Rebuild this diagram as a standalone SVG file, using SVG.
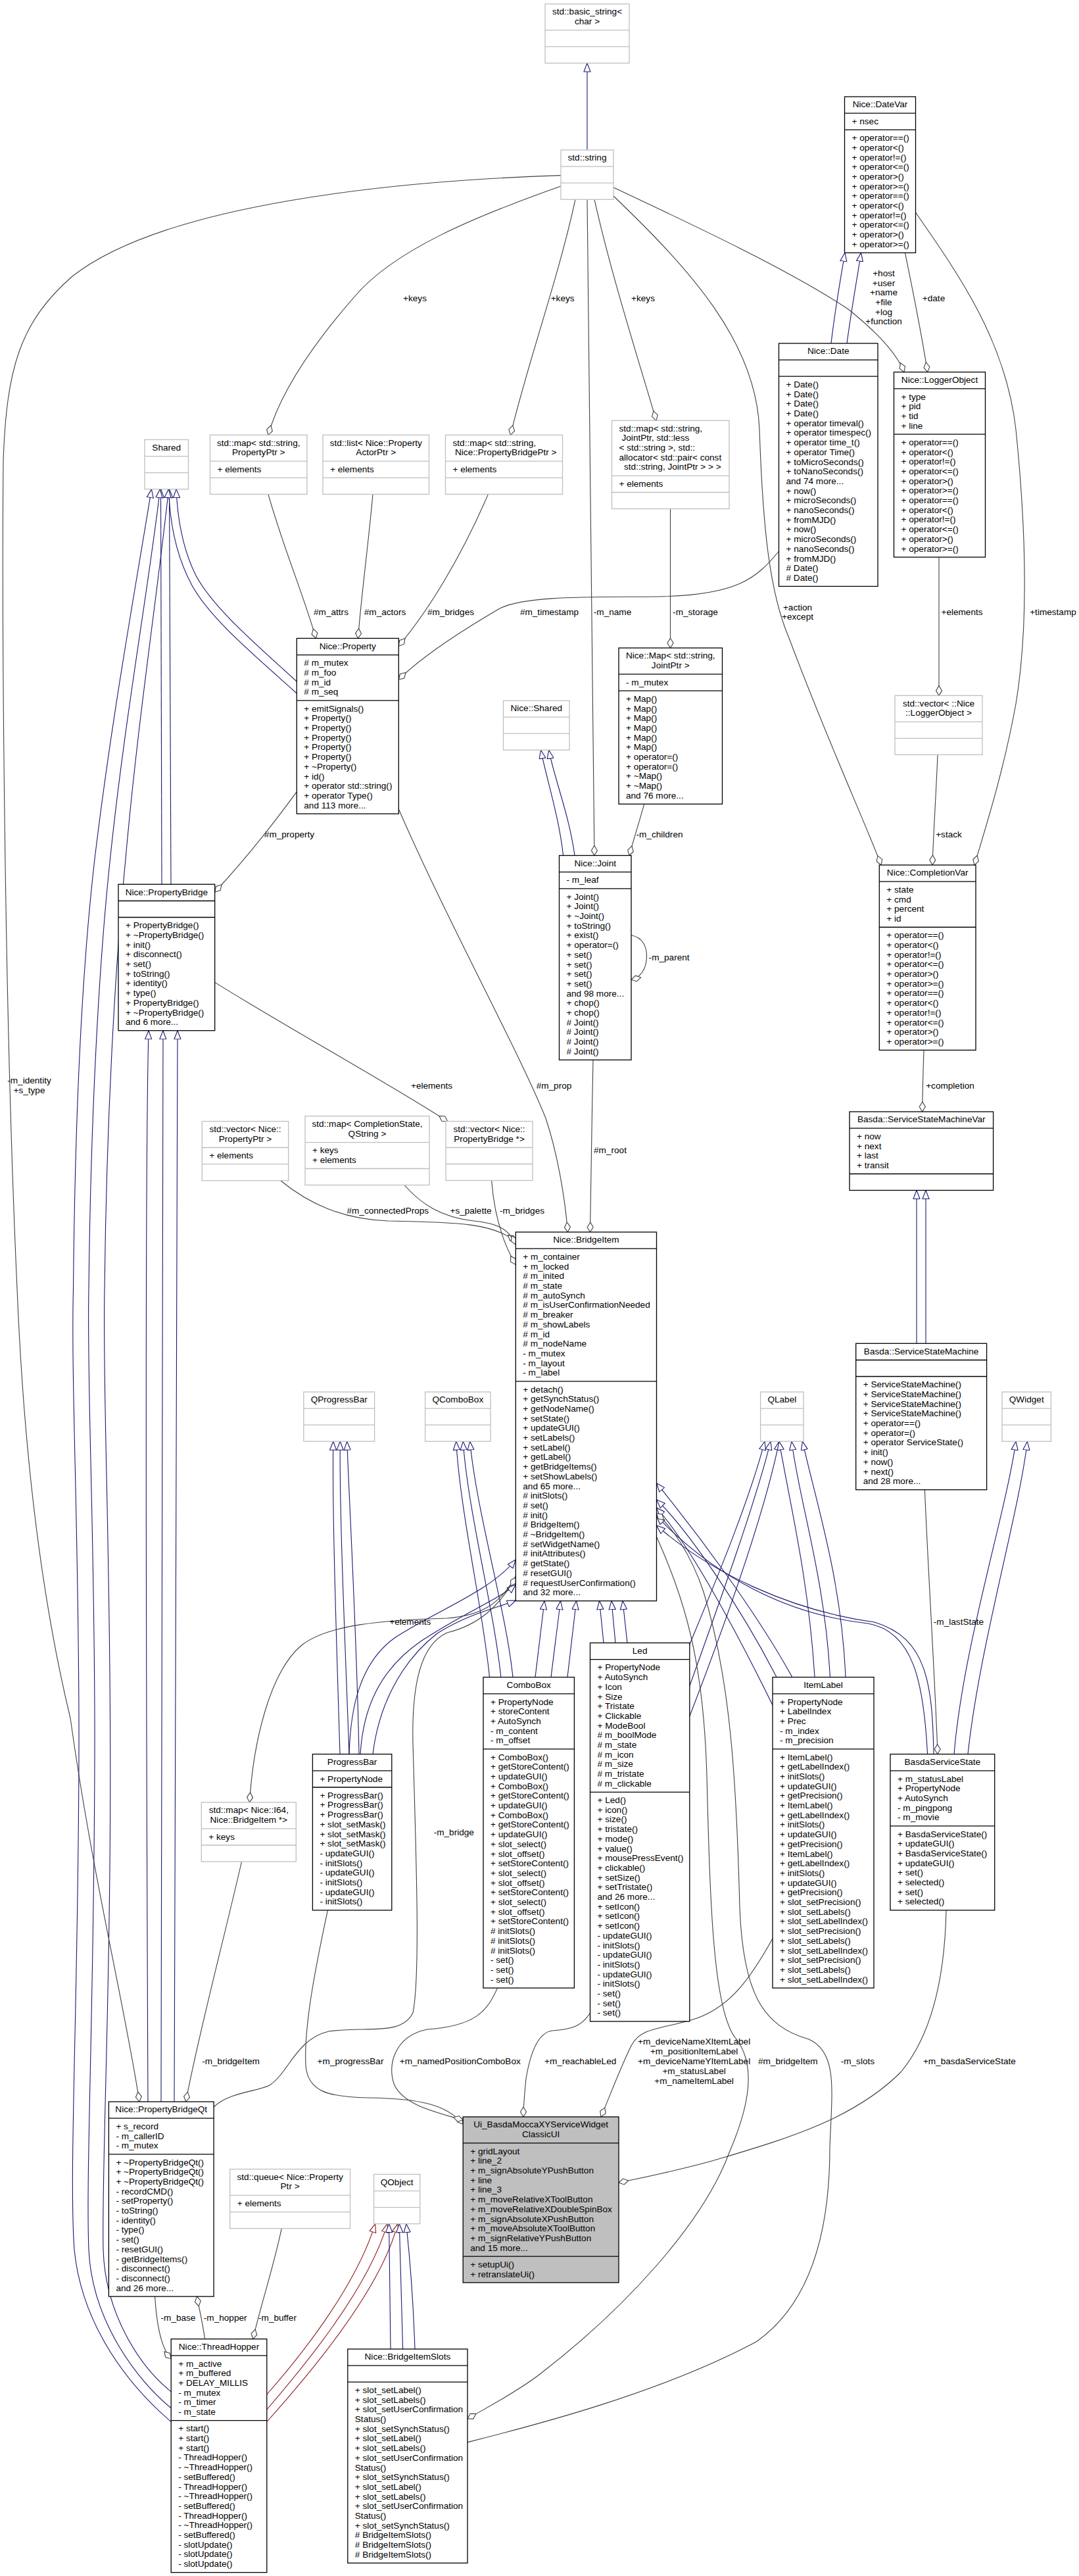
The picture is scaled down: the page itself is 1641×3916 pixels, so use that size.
<svg xmlns="http://www.w3.org/2000/svg" width="1641" height="3916" viewBox="0 0 1641 3916">
<defs>
<style>
.t{font-family:"Liberation Sans",Arial,sans-serif;font-size:13.6px;fill:#000}
.c{text-anchor:middle}
.cb{fill:#fff;stroke:#000;stroke-width:1.3}
.cg{fill:#fff;stroke:#bfbfbf;stroke-width:1.3}
.cu{fill:#bfbfbf;stroke:#000;stroke-width:1.3}
.db{fill:none;stroke:#000;stroke-width:1.3}
.dg{fill:none;stroke:#bfbfbf;stroke-width:1.3}
.eu{fill:none;stroke:#404040;stroke-width:1.1;marker-end:url(#dia)}
.ei{fill:none;stroke:#191970;stroke-width:1.1;marker-end:url(#tri)}
.ep{fill:none;stroke:#8b1a1a;stroke-width:1.1;marker-end:url(#trir)}
</style>
<marker id="tri" viewBox="0 0 14 12" markerWidth="14" markerHeight="12" refX="13.5" refY="6" orient="auto" markerUnits="userSpaceOnUse"><path d="M13.5,6 L0.5,1 L0.5,11 Z" fill="#fff" stroke="#191970" stroke-width="1.1"/></marker>
<marker id="trir" viewBox="0 0 14 12" markerWidth="14" markerHeight="12" refX="13.5" refY="6" orient="auto" markerUnits="userSpaceOnUse"><path d="M13.5,6 L0.5,1 L0.5,11 Z" fill="#fff" stroke="#8b1a1a" stroke-width="1.1"/></marker>
<marker id="dia" viewBox="0 0 16 12" markerWidth="16" markerHeight="12" refX="15.5" refY="6" orient="auto" markerUnits="userSpaceOnUse"><path d="M15.5,6 L8,1.5 L0.5,6 L8,10.5 Z" fill="#fff" stroke="#404040" stroke-width="1.1"/></marker>
</defs>
<rect x="0" y="0" width="1641" height="3916" fill="#fff"/>

<g id="connectors">
<path class="ei" d="M893,228 L893,96"/>
<path class="ei" d="M1264,522 C1270,470 1279,420 1285,384.3"/>
<path class="ei" d="M1288,522 C1295,470 1304,420 1309.5,384.3"/>
<path class="ei" d="M451.3,1036 C390,980 325,925 298,875 C278,835 270,790 268,743.6"/>
<path class="ei" d="M451.3,1054 C380,990 320,940 292,890 C266,842 258,790 256.5,743.6"/>
<path class="ei" d="M246,1344.3 L244.5,743.6"/>
<path class="ei" d="M260,1344.3 C260,1000 259,850 257.5,743.6"/>
<path class="ei" d="M260.2,3681.5 C200,3630 125,3540 113,3420 C104,3300 121,3000 120,2612 C119,2300 108,2100 111.5,1959 C114,1700 125,1470 144,1306 C170,1090 205,900 230.4,743.6"/>
<path class="ei" d="M260.2,3660.7 C210,3620 140,3530 135,3420 C130,3300 145,3000 144,2612 C143,2300 132,2100 135,1959 C138,1700 150,1470 167.5,1306 C190,1090 225,900 243.5,743.6"/>
<path class="ei" d="M260.2,3635.7 C215,3600 160,3520 157,3420 C154,3300 170,3000 167.5,2612 C166,2300 156,2100 159,1959 C162,1700 175,1470 191,1306 C210,1090 240,900 256.5,743.6"/>
<path class="ei" d="M856.6,1300.5 C850,1240 830,1180 822.6,1140.2"/>
<path class="ei" d="M874,1300.5 C866,1240 842,1180 834.7,1140.2"/>
<path class="ei" d="M225,3195 C222,2500 220,1800 226,1566.7"/>
<path class="ei" d="M245,3195 C245,2500 245,1800 248,1566.7"/>
<path class="ei" d="M265,3195 C268,2500 269,1800 270,1566.7"/>
<path class="ei" d="M517,2666.6 C512,2500 505,2300 506.8,2191.2"/>
<path class="ei" d="M531,2666.6 C525,2500 516,2300 517.3,2191.2"/>
<path class="ei" d="M546,2666.6 C543,2500 532,2300 527.7,2191.2"/>
<path class="ei" d="M744.5,2549.6 C735,2450 700,2300 693.7,2191.2"/>
<path class="ei" d="M761.8,2549.6 C752,2450 712,2300 704.2,2191.2"/>
<path class="ei" d="M780,2549.6 C770,2450 725,2300 714.7,2191.2"/>
<path class="ei" d="M531,2666.6 C533,2600 545,2530 600,2490 C660,2450 745,2420 784.3,2371"/>
<path class="ei" d="M548,2666.6 C552,2600 575,2540 640,2495 C700,2455 760,2430 784.3,2409"/>
<path class="ei" d="M567,2666.6 C575,2600 605,2530 665,2483 C715,2452 760,2443 784.3,2433"/>
<path class="ei" d="M814,2549.6 L828,2433.7"/>
<path class="ei" d="M838,2549.6 L852.5,2433.7"/>
<path class="ei" d="M863,2549.6 L876.5,2433.7"/>
<path class="ei" d="M918,2497.5 L911.6,2433.7"/>
<path class="ei" d="M936,2497.5 L930,2433.7"/>
<path class="ei" d="M954,2497.5 L947,2433.7"/>
<path class="ei" d="M1048.8,2500 C1090,2400 1140,2280 1163,2191.2"/>
<path class="ei" d="M1048.8,2563 C1100,2420 1150,2280 1172,2191.2"/>
<path class="ei" d="M1048.8,2609 C1110,2450 1165,2290 1185,2191.2"/>
<path class="ei" d="M1239,2549.6 C1230,2400 1200,2280 1185,2191.2"/>
<path class="ei" d="M1262.4,2549.6 C1255,2400 1215,2280 1204,2191.2"/>
<path class="ei" d="M1286,2549.6 C1280,2400 1240,2280 1220.5,2191.2"/>
<path class="ei" d="M1204.8,2549.6 C1150,2450 1060,2330 998.5,2254.7"/>
<path class="ei" d="M1181,2549.6 C1130,2450 1050,2330 998.5,2279.7"/>
<path class="ei" d="M1175,2592 C1120,2480 1050,2350 998.5,2292"/>
<path class="ei" d="M1410.6,2666.6 C1405,2560 1390,2480 1320,2468 C1200,2455 1090,2400 998.5,2304.7"/>
<path class="ei" d="M1420,2666.6 C1418,2560 1410,2490 1330,2466 C1200,2448 1080,2390 998.5,2319"/>
<path class="ei" d="M1451,2666.6 C1465,2500 1530,2300 1545,2191.2"/>
<path class="ei" d="M1472,2666.6 C1490,2500 1550,2300 1562.4,2191.2"/>
<path class="ei" d="M1394,2042.3 L1394,1809.5"/>
<path class="ei" d="M1408,2042.3 L1408,1809.5"/>
<path class="ep" d="M405.8,3640 C450,3590 540,3480 570.7,3380.6"/>
<path class="ep" d="M405.8,3663 C460,3600 560,3480 589,3380.6"/>
<path class="ep" d="M405.8,3681.5 C470,3610 580,3480 604.7,3380.6"/>
<path class="ei" d="M594,3571 C593,3480 592,3420 591.6,3380.6"/>
<path class="ei" d="M612.6,3571 L607.3,3380.6"/>
<path class="ei" d="M631,3571 C628,3480 622,3420 617.8,3380.6"/>

<path class="eu" d="M853,266.6 C600,275 250,310 110,420 C30,490 10,560 5,700 C3,900 5,1500 26,1959 C40,2300 80,2500 107,2612 C140,2850 190,3050 212,3195"/>
<path class="eu" d="M853,283 C720,330 600,380 540,450 C470,530 425,600 408,661.3"/>
<path class="eu" d="M875,303.2 C850,420 800,560 776.5,661.3"/>
<path class="eu" d="M893,303.2 C895,700 900,1000 904,1300.5"/>
<path class="eu" d="M904,303.2 C930,420 975,560 998,639.3"/>
<path class="eu" d="M933,298 C1050,410 1150,520 1155,653 C1160,800 1170,900 1200,970 C1260,1130 1320,1260 1340,1315"/>
<path class="eu" d="M933,285 C1050,340 1200,410 1290,470 C1340,510 1365,540 1375,565.6"/>
<path class="eu" d="M1376.5,384.3 C1390,450 1402,510 1410.6,565.6"/>
<path class="eu" d="M1392.5,323 C1460,420 1530,520 1545,653 C1560,800 1565,950 1545,1070 C1525,1180 1495,1270 1482,1315"/>
<path class="eu" d="M1184.5,838 C1150,880 1120,905 1000,907 C900,908 800,905 760,925 C700,960 640,1000 606.3,1033"/>
<path class="eu" d="M408,751.4 C430,830 460,900 480.6,970.4"/>
<path class="eu" d="M567,751.4 C560,830 550,900 544.5,970.4"/>
<path class="eu" d="M742.4,751.4 C700,850 650,930 606.3,982"/>
<path class="eu" d="M1019.5,773.5 L1019.5,985"/>
<path class="eu" d="M979.7,1222.3 C972,1250 964,1275 957,1300.5"/>
<path class="eu" d="M1428,847 L1428,1057.4"/>
<path class="eu" d="M1426,1147.3 C1424,1200 1420,1260 1418,1315"/>
<path class="eu" d="M960,1421.8 C978,1425 984,1440 983.5,1455 C983,1472 975,1486 960,1489"/>
<path class="eu" d="M451.3,1203.6 C410,1260 370,1310 326.7,1356"/>
<path class="eu" d="M606.3,1230 C680,1400 790,1600 830,1700 C850,1760 860,1830 863.5,1873"/>
<path class="eu" d="M902,1611.3 C900,1700 899,1800 897.5,1873"/>
<path class="eu" d="M1405,1596.4 C1404,1630 1403,1660 1402.7,1690"/>
<path class="eu" d="M326.7,1493.4 C450,1570 580,1640 680.6,1704.6"/>
<path class="eu" d="M426.7,1794.7 C470,1830 520,1853 590,1856 C700,1858 750,1860 784.3,1887"/>
<path class="eu" d="M615,1801.5 C640,1830 670,1850 720,1856 C760,1860 775,1870 784.3,1892"/>
<path class="eu" d="M747.6,1794.5 C752,1850 765,1890 784.3,1922.4"/>
<path class="eu" d="M784.3,2396 C760,2440 730,2456 680,2460 C580,2463 500,2470 460,2500 C410,2540 385,2650 379.6,2739.9"/>
<path class="eu" d="M325.1,3203 C350,3180 390,3180 410,3170 C440,3150 450,3100 500,3088 C560,3080 610,3095 628,3060 C640,3000 632,2800 628,2650 C626,2560 640,2500 680,2482 C730,2470 760,2440 784.3,2398"/>
<path class="eu" d="M367.5,2830 C340,2950 300,3100 282.7,3195"/>
<path class="eu" d="M498.4,2903.9 C480,2990 462,3080 465,3140 C468,3180 500,3188 560,3189 C640,3190 680,3200 704.2,3229"/>
<path class="eu" d="M756.5,3022.1 C740,3060 720,3080 650,3085 C600,3095 588,3140 600,3170 C615,3200 660,3210 704.2,3223"/>
<path class="eu" d="M897.5,3060 C885,3080 870,3085 840,3087 C815,3090 805,3130 800,3160 C797,3190 796,3205 796,3218"/>
<path class="eu" d="M1175,2947 C1140,3010 1110,3050 1060,3068 C1010,3085 975,3080 960,3110 C945,3140 930,3180 914,3218"/>
<path class="eu" d="M998.5,2336 C1040,2430 1070,2520 1075,2700 C1080,2900 1085,3060 1120,3100 C1150,3140 1140,3200 1110,3270 C1070,3380 950,3510 820,3610 C780,3640 740,3660 711,3677"/>
<path class="eu" d="M711,3712.7 C800,3690 1000,3640 1150,3560 C1250,3490 1262,3350 1262,3265 C1265,3180 1275,3120 1230,3100 C1160,3080 1130,3030 1125,2900 C1120,2700 1110,2550 1070,2420 C1050,2360 1020,2320 998.5,2300.5"/>
<path class="eu" d="M1406.4,2264.7 C1412,2400 1422,2550 1426,2666.6"/>
<path class="eu" d="M1439,2903.9 C1437,3000 1420,3090 1370,3150 C1300,3220 1200,3250 1100,3280 C1040,3298 980,3310 941,3318"/>
<path class="eu" d="M235.6,3491.1 C238,3530 245,3570 260.2,3585.7"/>
<path class="eu" d="M311.5,3555.7 C308,3530 303,3510 299.5,3491.1"/>
<path class="eu" d="M428.3,3387.6 C415,3450 395,3510 384.8,3555.7"/>

<g id="edge-labels">
<text class="t c" x="631" y="457.5">+keys</text>
<text class="t c" x="855.6" y="457.5">+keys</text>
<text class="t c" x="978" y="457.5">+keys</text>
<text class="t c" x="1344" y="420.2">+host<tspan x="1344" dy="14.9">+user</tspan><tspan x="1344" dy="14.3">+name</tspan><tspan x="1344" dy="15">+file</tspan><tspan x="1344" dy="14.8">+log</tspan><tspan x="1344" dy="14">+function</tspan></text>
<text class="t c" x="1420" y="457.5">+date</text>
<text class="t c" x="503.5" y="934.5">#m_attrs</text>
<text class="t c" x="585.5" y="934.5">#m_actors</text>
<text class="t c" x="685.5" y="934.5">#m_bridges</text>
<text class="t c" x="835.5" y="934.5">#m_timestamp</text>
<text class="t c" x="931.5" y="934.5">-m_name</text>
<text class="t c" x="1057.5" y="934.5">-m_storage</text>
<text class="t c" x="1213" y="927.5">+action<tspan x="1213" dy="14">+except</tspan></text>
<text class="t c" x="1463" y="934.5">+elements</text>
<text class="t c" x="1601.5" y="934.5">+timestamp</text>
<text class="t c" x="1003" y="1272.5">-m_children</text>
<text class="t c" x="1443" y="1272.5">+stack</text>
<text class="t c" x="440" y="1272.5">#m_property</text>
<text class="t c" x="1017.6" y="1459.5">-m_parent</text>
<text class="t c" x="44.5" y="1647">-m_identity<tspan x="44.5" dy="14.6">+s_type</tspan></text>
<text class="t c" x="656.5" y="1654.5">+elements</text>
<text class="t c" x="842.5" y="1654.5">#m_prop</text>
<text class="t c" x="1445" y="1654.5">+completion</text>
<text class="t c" x="928" y="1753">#m_root</text>
<text class="t c" x="589.8" y="1845">#m_connectedProps</text>
<text class="t c" x="716" y="1845">+s_palette</text>
<text class="t c" x="794" y="1845">-m_bridges</text>
<text class="t c" x="623.8" y="2469.5">+elements</text>
<text class="t c" x="1458" y="2469.5">-m_lastState</text>
<text class="t c" x="690.3" y="2789.5">-m_bridge</text>
<text class="t c" x="351" y="3137.5">-m_bridgeItem</text>
<text class="t c" x="533" y="3137.5">+m_progressBar</text>
<text class="t c" x="699.8" y="3137.5">+m_namedPositionComboBox</text>
<text class="t c" x="882.7" y="3137.5">+m_reachableLed</text>
<text class="t c" x="1198.3" y="3137.5">#m_bridgeItem</text>
<text class="t c" x="1304.4" y="3137.5">-m_slots</text>
<text class="t c" x="1474.4" y="3137.5">+m_basdaServiceState</text>
<text class="t c" x="1055.6" y="3108.2">+m_deviceNameXItemLabel<tspan x="1055.6" dy="15">+m_positionItemLabel</tspan><tspan x="1055.6" dy="14.4">+m_deviceNameYItemLabel</tspan><tspan x="1055.6" dy="14.9">+m_statusLabel</tspan><tspan x="1055.6" dy="15">+m_nameItemLabel</tspan></text>
<text class="t c" x="271" y="3528">-m_base</text>
<text class="t c" x="342.7" y="3528">-m_hopper</text>
<text class="t c" x="422" y="3528">-m_buffer</text>
</g>
</g>

<g id="node-basic-string">
<rect class="cg" x="829" y="6" width="128" height="90"/>
<path class="dg" d="M829,45.9 H957 M829,70.9 H957"/>
<text class="t c" x="893" y="22.2">std::basic_string&lt;<tspan x="893" dy="14.7">char &gt;</tspan></text>
</g>
<g id="node-std-string">
<rect class="cg" x="853" y="228" width="80" height="75.2"/>
<path class="dg" d="M853,253.2 H933 M853,278.2 H933"/>
<text class="t c" x="893" y="244.2">std::string</text>
</g>
<g id="node-datevar">
<rect class="cb" x="1284.5" y="147" width="108" height="237.3"/>
<path class="db" d="M1284.5,172.2 H1392.5 M1284.5,197.4 H1392.5"/>
<text class="t c" x="1338.5" y="163.2">Nice::DateVar</text>
<text class="t" x="1295.5" y="188.9">+ nsec</text>
<text class="t" x="1295.5" y="214.1">+ operator==()<tspan x="1295.5" dy="14.7">+ operator&lt;()</tspan><tspan x="1295.5" dy="14.7">+ operator!=()</tspan><tspan x="1295.5" dy="14.7">+ operator&lt;=()</tspan><tspan x="1295.5" dy="14.7">+ operator&gt;()</tspan><tspan x="1295.5" dy="14.7">+ operator&gt;=()</tspan><tspan x="1295.5" dy="14.7">+ operator==()</tspan><tspan x="1295.5" dy="14.7">+ operator&lt;()</tspan><tspan x="1295.5" dy="14.7">+ operator!=()</tspan><tspan x="1295.5" dy="14.7">+ operator&lt;=()</tspan><tspan x="1295.5" dy="14.7">+ operator&gt;()</tspan><tspan x="1295.5" dy="14.7">+ operator&gt;=()</tspan></text>
</g>
<g id="node-date">
<rect class="cb" x="1184.5" y="522" width="150.5" height="369.4"/>
<path class="db" d="M1184.5,547.2 H1335 M1184.5,572.2 H1335"/>
<text class="t c" x="1259.75" y="538.2">Nice::Date</text>
<text class="t" x="1195.5" y="588.9">+ Date()<tspan x="1195.5" dy="14.7">+ Date()</tspan><tspan x="1195.5" dy="14.7">+ Date()</tspan><tspan x="1195.5" dy="14.7">+ Date()</tspan><tspan x="1195.5" dy="14.7">+ operator timeval()</tspan><tspan x="1195.5" dy="14.7">+ operator timespec()</tspan><tspan x="1195.5" dy="14.7">+ operator time_t()</tspan><tspan x="1195.5" dy="14.7">+ operator Time()</tspan><tspan x="1195.5" dy="14.7">+ toMicroSeconds()</tspan><tspan x="1195.5" dy="14.7">+ toNanoSeconds()</tspan><tspan x="1195.5" dy="14.7">and 74 more...</tspan><tspan x="1195.5" dy="14.7">+ now()</tspan><tspan x="1195.5" dy="14.7">+ microSeconds()</tspan><tspan x="1195.5" dy="14.7">+ nanoSeconds()</tspan><tspan x="1195.5" dy="14.7">+ fromMJD()</tspan><tspan x="1195.5" dy="14.7">+ now()</tspan><tspan x="1195.5" dy="14.7">+ microSeconds()</tspan><tspan x="1195.5" dy="14.7">+ nanoSeconds()</tspan><tspan x="1195.5" dy="14.7">+ fromMJD()</tspan><tspan x="1195.5" dy="14.7"># Date()</tspan><tspan x="1195.5" dy="14.7"># Date()</tspan></text>
</g>
<g id="node-loggerobject">
<rect class="cb" x="1359.5" y="565.6" width="139" height="281.4"/>
<path class="db" d="M1359.5,590.8 H1498.5 M1359.5,660.1 H1498.5"/>
<text class="t c" x="1429" y="581.8">Nice::LoggerObject</text>
<text class="t" x="1370.5" y="607.5">+ type<tspan x="1370.5" dy="14.7">+ pid</tspan><tspan x="1370.5" dy="14.7">+ tid</tspan><tspan x="1370.5" dy="14.7">+ line</tspan></text>
<text class="t" x="1370.5" y="676.8">+ operator==()<tspan x="1370.5" dy="14.7">+ operator&lt;()</tspan><tspan x="1370.5" dy="14.7">+ operator!=()</tspan><tspan x="1370.5" dy="14.7">+ operator&lt;=()</tspan><tspan x="1370.5" dy="14.7">+ operator&gt;()</tspan><tspan x="1370.5" dy="14.7">+ operator&gt;=()</tspan><tspan x="1370.5" dy="14.7">+ operator==()</tspan><tspan x="1370.5" dy="14.7">+ operator&lt;()</tspan><tspan x="1370.5" dy="14.7">+ operator!=()</tspan><tspan x="1370.5" dy="14.7">+ operator&lt;=()</tspan><tspan x="1370.5" dy="14.7">+ operator&gt;()</tspan><tspan x="1370.5" dy="14.7">+ operator&gt;=()</tspan></text>
</g>
<g id="node-map-jointptr-std">
<rect class="cg" x="930.5" y="639.3" width="178.5" height="134.2"/>
<path class="dg" d="M930.5,723.3 H1109 M930.5,748.5 H1109"/>
<text class="t" x="941.5" y="655.5">std::map&lt; std::string,<tspan x="945.5" dy="14.7">JointPtr, std::less</tspan><tspan x="941.5" dy="14.7">&lt; std::string &gt;, std::</tspan><tspan x="941.5" dy="14.7">allocator&lt; std::pair&lt; const</tspan><tspan x="949" dy="14.7">std::string, JointPtr &gt; &gt; &gt;</tspan></text>
<text class="t" x="941.5" y="740">+ elements</text>
</g>
<g id="node-shared">
<rect class="cg" x="220" y="668.4" width="66.5" height="75.2"/>
<path class="dg" d="M220,693.6 H286.5 M220,718.6 H286.5"/>
<text class="t c" x="253.25" y="684.6">Shared</text>
</g>
<g id="node-map-propertyptr">
<rect class="cg" x="319.5" y="661.3" width="147.5" height="90.1"/>
<path class="dg" d="M319.5,701.2 H467 M319.5,726.4 H467"/>
<text class="t c" x="393.25" y="677.5">std::map&lt; std::string,<tspan x="393.25" dy="14.7">PropertyPtr &gt;</tspan></text>
<text class="t" x="330.5" y="717.9">+ elements</text>
</g>
<g id="node-list-actorptr">
<rect class="cg" x="491" y="661.3" width="161.5" height="90.1"/>
<path class="dg" d="M491,701.2 H652.5 M491,726.4 H652.5"/>
<text class="t c" x="571.75" y="677.5">std::list&lt; Nice::Property<tspan x="571.75" dy="14.7">ActorPtr &gt;</tspan></text>
<text class="t" x="502" y="717.9">+ elements</text>
</g>
<g id="node-map-bridgeptr">
<rect class="cg" x="677.5" y="661.3" width="178" height="90.1"/>
<path class="dg" d="M677.5,701.2 H855.5 M677.5,726.4 H855.5"/>
<text class="t" x="688.5" y="677.5">std::map&lt; std::string,<tspan x="692" dy="14.7">Nice::PropertyBridgePtr &gt;</tspan></text>
<text class="t" x="688.5" y="717.9">+ elements</text>
</g>
<g id="node-property">
<rect class="cb" x="451.3" y="970.4" width="155" height="266.7"/>
<path class="db" d="M451.3,995.6 H606.3 M451.3,1064.9 H606.3"/>
<text class="t c" x="528.8" y="986.6">Nice::Property</text>
<text class="t" x="462.3" y="1012.3"># m_mutex<tspan x="462.3" dy="14.7"># m_foo</tspan><tspan x="462.3" dy="14.7"># m_id</tspan><tspan x="462.3" dy="14.7"># m_seq</tspan></text>
<text class="t" x="462.3" y="1081.6">+ emitSignals()<tspan x="462.3" dy="14.7">+ Property()</tspan><tspan x="462.3" dy="14.7">+ Property()</tspan><tspan x="462.3" dy="14.7">+ Property()</tspan><tspan x="462.3" dy="14.7">+ Property()</tspan><tspan x="462.3" dy="14.7">+ Property()</tspan><tspan x="462.3" dy="14.7">+ ~Property()</tspan><tspan x="462.3" dy="14.7">+ id()</tspan><tspan x="462.3" dy="14.7">+ operator std::string()</tspan><tspan x="462.3" dy="14.7">+ operator Type()</tspan><tspan x="462.3" dy="14.7">and 113 more...</tspan></text>
</g>
<g id="node-nice-map">
<rect class="cb" x="941" y="985" width="157.5" height="237.3"/>
<path class="db" d="M941,1024.9 H1098.5 M941,1050.1 H1098.5"/>
<text class="t c" x="1019.75" y="1001.2">Nice::Map&lt; std::string,<tspan x="1019.75" dy="14.7">JointPtr &gt;</tspan></text>
<text class="t" x="952" y="1041.6">- m_mutex</text>
<text class="t" x="952" y="1066.8">+ Map()<tspan x="952" dy="14.7">+ Map()</tspan><tspan x="952" dy="14.7">+ Map()</tspan><tspan x="952" dy="14.7">+ Map()</tspan><tspan x="952" dy="14.7">+ Map()</tspan><tspan x="952" dy="14.7">+ Map()</tspan><tspan x="952" dy="14.7">+ operator=()</tspan><tspan x="952" dy="14.7">+ operator=()</tspan><tspan x="952" dy="14.7">+ ~Map()</tspan><tspan x="952" dy="14.7">+ ~Map()</tspan><tspan x="952" dy="14.7">and 76 more...</tspan></text>
</g>
<g id="node-nice-shared">
<rect class="cg" x="765.5" y="1065" width="100.5" height="75.2"/>
<path class="dg" d="M765.5,1090.2 H866 M765.5,1115.2 H866"/>
<text class="t c" x="815.75" y="1081.2">Nice::Shared</text>
</g>
<g id="node-vector-loggerobject">
<rect class="cg" x="1361" y="1057.4" width="133" height="89.9"/>
<path class="dg" d="M1361,1097.3 H1494 M1361,1122.3 H1494"/>
<text class="t c" x="1427.5" y="1073.6">std::vector&lt; ::Nice<tspan x="1427.5" dy="14.7">::LoggerObject &gt;</tspan></text>
</g>
<g id="node-joint">
<rect class="cb" x="850.5" y="1300.5" width="109.5" height="310.8"/>
<path class="db" d="M850.5,1325.7 H960 M850.5,1350.9 H960"/>
<text class="t c" x="905.25" y="1316.7">Nice::Joint</text>
<text class="t" x="861.5" y="1342.4">- m_leaf</text>
<text class="t" x="861.5" y="1367.6">+ Joint()<tspan x="861.5" dy="14.7">+ Joint()</tspan><tspan x="861.5" dy="14.7">+ ~Joint()</tspan><tspan x="861.5" dy="14.7">+ toString()</tspan><tspan x="861.5" dy="14.7">+ exist()</tspan><tspan x="861.5" dy="14.7">+ operator=()</tspan><tspan x="861.5" dy="14.7">+ set()</tspan><tspan x="861.5" dy="14.7">+ set()</tspan><tspan x="861.5" dy="14.7">+ set()</tspan><tspan x="861.5" dy="14.7">+ set()</tspan><tspan x="861.5" dy="14.7">and 98 more...</tspan><tspan x="861.5" dy="14.7">+ chop()</tspan><tspan x="861.5" dy="14.7">+ chop()</tspan><tspan x="861.5" dy="14.7"># Joint()</tspan><tspan x="861.5" dy="14.7"># Joint()</tspan><tspan x="861.5" dy="14.7"># Joint()</tspan><tspan x="861.5" dy="14.7"># Joint()</tspan></text>
</g>
<g id="node-completionvar">
<rect class="cb" x="1337.3" y="1315" width="146.7" height="281.4"/>
<path class="db" d="M1337.3,1340.2 H1484 M1337.3,1409.5 H1484"/>
<text class="t c" x="1410.65" y="1331.2">Nice::CompletionVar</text>
<text class="t" x="1348.3" y="1356.9">+ state<tspan x="1348.3" dy="14.7">+ cmd</tspan><tspan x="1348.3" dy="14.7">+ percent</tspan><tspan x="1348.3" dy="14.7">+ id</tspan></text>
<text class="t" x="1348.3" y="1426.2">+ operator==()<tspan x="1348.3" dy="14.7">+ operator&lt;()</tspan><tspan x="1348.3" dy="14.7">+ operator!=()</tspan><tspan x="1348.3" dy="14.7">+ operator&lt;=()</tspan><tspan x="1348.3" dy="14.7">+ operator&gt;()</tspan><tspan x="1348.3" dy="14.7">+ operator&gt;=()</tspan><tspan x="1348.3" dy="14.7">+ operator==()</tspan><tspan x="1348.3" dy="14.7">+ operator&lt;()</tspan><tspan x="1348.3" dy="14.7">+ operator!=()</tspan><tspan x="1348.3" dy="14.7">+ operator&lt;=()</tspan><tspan x="1348.3" dy="14.7">+ operator&gt;()</tspan><tspan x="1348.3" dy="14.7">+ operator&gt;=()</tspan></text>
</g>
<g id="node-propertybridge">
<rect class="cb" x="180" y="1344.3" width="146.7" height="222.4"/>
<path class="db" d="M180,1369.5 H326.7 M180,1394.5 H326.7"/>
<text class="t c" x="253.35" y="1360.5">Nice::PropertyBridge</text>
<text class="t" x="191" y="1411.2">+ PropertyBridge()<tspan x="191" dy="14.7">+ ~PropertyBridge()</tspan><tspan x="191" dy="14.7">+ init()</tspan><tspan x="191" dy="14.7">+ disconnect()</tspan><tspan x="191" dy="14.7">+ set()</tspan><tspan x="191" dy="14.7">+ toString()</tspan><tspan x="191" dy="14.7">+ identity()</tspan><tspan x="191" dy="14.7">+ type()</tspan><tspan x="191" dy="14.7">+ PropertyBridge()</tspan><tspan x="191" dy="14.7">+ ~PropertyBridge()</tspan><tspan x="191" dy="14.7">and 6 more...</tspan></text>
</g>
<g id="node-ssmvar">
<rect class="cb" x="1292" y="1690" width="218.6" height="119.5"/>
<path class="db" d="M1292,1715.2 H1510.6 M1292,1784.5 H1510.6"/>
<text class="t c" x="1401.3" y="1706.2">Basda::ServiceStateMachineVar</text>
<text class="t" x="1303" y="1731.9">+ now<tspan x="1303" dy="14.7">+ next</tspan><tspan x="1303" dy="14.7">+ last</tspan><tspan x="1303" dy="14.7">+ transit</tspan></text>
</g>
<g id="node-vector-propertyptr">
<rect class="cg" x="307.3" y="1704.6" width="131.4" height="90.1"/>
<path class="dg" d="M307.3,1744.5 H438.7 M307.3,1769.7 H438.7"/>
<text class="t c" x="373" y="1720.8">std::vector&lt; Nice::<tspan x="373" dy="14.7">PropertyPtr &gt;</tspan></text>
<text class="t" x="318.3" y="1761.2">+ elements</text>
</g>
<g id="node-map-completionstate">
<rect class="cg" x="464" y="1696.7" width="189" height="104.8"/>
<path class="dg" d="M464,1736.6 H653 M464,1776.5 H653"/>
<text class="t c" x="558.5" y="1712.9">std::map&lt; CompletionState,<tspan x="558.5" dy="14.7">QString &gt;</tspan></text>
<text class="t" x="475" y="1753.3">+ keys<tspan x="475" dy="14.7">+ elements</tspan></text>
</g>
<g id="node-vector-propertybridge">
<rect class="cg" x="678" y="1704.6" width="132" height="89.9"/>
<path class="dg" d="M678,1744.5 H810 M678,1769.5 H810"/>
<text class="t c" x="744" y="1720.8">std::vector&lt; Nice::<tspan x="744" dy="14.7">PropertyBridge *&gt;</tspan></text>
</g>
<g id="node-bridgeitem">
<rect class="cb" x="784.3" y="1873" width="214.2" height="560.7"/>
<path class="db" d="M784.3,1898.2 H998.5 M784.3,2099.8 H998.5"/>
<text class="t c" x="891.4" y="1889.2">Nice::BridgeItem</text>
<text class="t" x="795.3" y="1914.9">+ m_container<tspan x="795.3" dy="14.7">+ m_locked</tspan><tspan x="795.3" dy="14.7"># m_inited</tspan><tspan x="795.3" dy="14.7"># m_state</tspan><tspan x="795.3" dy="14.7"># m_autoSynch</tspan><tspan x="795.3" dy="14.7"># m_isUserConfirmationNeeded</tspan><tspan x="795.3" dy="14.7"># m_breaker</tspan><tspan x="795.3" dy="14.7"># m_showLabels</tspan><tspan x="795.3" dy="14.7"># m_id</tspan><tspan x="795.3" dy="14.7"># m_nodeName</tspan><tspan x="795.3" dy="14.7">- m_mutex</tspan><tspan x="795.3" dy="14.7">- m_layout</tspan><tspan x="795.3" dy="14.7">- m_label</tspan></text>
<text class="t" x="795.3" y="2116.5">+ detach()<tspan x="795.3" dy="14.7">+ getSynchStatus()</tspan><tspan x="795.3" dy="14.7">+ getNodeName()</tspan><tspan x="795.3" dy="14.7">+ setState()</tspan><tspan x="795.3" dy="14.7">+ updateGUI()</tspan><tspan x="795.3" dy="14.7">+ setLabels()</tspan><tspan x="795.3" dy="14.7">+ setLabel()</tspan><tspan x="795.3" dy="14.7">+ getLabel()</tspan><tspan x="795.3" dy="14.7">+ getBridgeItems()</tspan><tspan x="795.3" dy="14.7">+ setShowLabels()</tspan><tspan x="795.3" dy="14.7">and 65 more...</tspan><tspan x="795.3" dy="14.7"># initSlots()</tspan><tspan x="795.3" dy="14.7"># set()</tspan><tspan x="795.3" dy="14.7"># init()</tspan><tspan x="795.3" dy="14.7"># BridgeItem()</tspan><tspan x="795.3" dy="14.7"># ~BridgeItem()</tspan><tspan x="795.3" dy="14.7"># setWidgetName()</tspan><tspan x="795.3" dy="14.7"># initAttributes()</tspan><tspan x="795.3" dy="14.7"># getState()</tspan><tspan x="795.3" dy="14.7"># resetGUI()</tspan><tspan x="795.3" dy="14.7"># requestUserConfirmation()</tspan><tspan x="795.3" dy="14.7">and 32 more...</tspan></text>
</g>
<g id="node-ssm">
<rect class="cb" x="1301.7" y="2042.3" width="198.9" height="222.4"/>
<path class="db" d="M1301.7,2067.5 H1500.6 M1301.7,2092.5 H1500.6"/>
<text class="t c" x="1401.15" y="2058.5">Basda::ServiceStateMachine</text>
<text class="t" x="1312.7" y="2109.2">+ ServiceStateMachine()<tspan x="1312.7" dy="14.7">+ ServiceStateMachine()</tspan><tspan x="1312.7" dy="14.7">+ ServiceStateMachine()</tspan><tspan x="1312.7" dy="14.7">+ ServiceStateMachine()</tspan><tspan x="1312.7" dy="14.7">+ operator==()</tspan><tspan x="1312.7" dy="14.7">+ operator=()</tspan><tspan x="1312.7" dy="14.7">+ operator ServiceState()</tspan><tspan x="1312.7" dy="14.7">+ init()</tspan><tspan x="1312.7" dy="14.7">+ now()</tspan><tspan x="1312.7" dy="14.7">+ next()</tspan><tspan x="1312.7" dy="14.7">and 28 more...</tspan></text>
</g>
<g id="node-qprogressbar">
<rect class="cg" x="461.8" y="2116" width="107.8" height="75.2"/>
<path class="dg" d="M461.8,2141.2 H569.6 M461.8,2166.2 H569.6"/>
<text class="t c" x="515.7" y="2132.2">QProgressBar</text>
</g>
<g id="node-qcombobox">
<rect class="cg" x="646.6" y="2116" width="99.4" height="75.2"/>
<path class="dg" d="M646.6,2141.2 H746 M646.6,2166.2 H746"/>
<text class="t c" x="696.3" y="2132.2">QComboBox</text>
</g>
<g id="node-qlabel">
<rect class="cg" x="1156.6" y="2116" width="65.4" height="75.2"/>
<path class="dg" d="M1156.6,2141.2 H1222 M1156.6,2166.2 H1222"/>
<text class="t c" x="1189.3" y="2132.2">QLabel</text>
</g>
<g id="node-qwidget">
<rect class="cg" x="1524" y="2116" width="74.5" height="75.2"/>
<path class="dg" d="M1524,2141.2 H1598.5 M1524,2166.2 H1598.5"/>
<text class="t c" x="1561.25" y="2132.2">QWidget</text>
</g>
<g id="node-led">
<rect class="cb" x="897.5" y="2497.5" width="151.3" height="575.4"/>
<path class="db" d="M897.5,2522.7 H1048.8 M897.5,2724.3 H1048.8"/>
<text class="t c" x="973.15" y="2513.7">Led</text>
<text class="t" x="908.5" y="2539.4">+ PropertyNode<tspan x="908.5" dy="14.7">+ AutoSynch</tspan><tspan x="908.5" dy="14.7">+ Icon</tspan><tspan x="908.5" dy="14.7">+ Size</tspan><tspan x="908.5" dy="14.7">+ Tristate</tspan><tspan x="908.5" dy="14.7">+ Clickable</tspan><tspan x="908.5" dy="14.7">+ ModeBool</tspan><tspan x="908.5" dy="14.7"># m_boolMode</tspan><tspan x="908.5" dy="14.7"># m_state</tspan><tspan x="908.5" dy="14.7"># m_icon</tspan><tspan x="908.5" dy="14.7"># m_size</tspan><tspan x="908.5" dy="14.7"># m_tristate</tspan><tspan x="908.5" dy="14.7"># m_clickable</tspan></text>
<text class="t" x="908.5" y="2741">+ Led()<tspan x="908.5" dy="14.7">+ icon()</tspan><tspan x="908.5" dy="14.7">+ size()</tspan><tspan x="908.5" dy="14.7">+ tristate()</tspan><tspan x="908.5" dy="14.7">+ mode()</tspan><tspan x="908.5" dy="14.7">+ value()</tspan><tspan x="908.5" dy="14.7">+ mousePressEvent()</tspan><tspan x="908.5" dy="14.7">+ clickable()</tspan><tspan x="908.5" dy="14.7">+ setSize()</tspan><tspan x="908.5" dy="14.7">+ setTristate()</tspan><tspan x="908.5" dy="14.7">and 26 more...</tspan><tspan x="908.5" dy="14.7">+ setIcon()</tspan><tspan x="908.5" dy="14.7">+ setIcon()</tspan><tspan x="908.5" dy="14.7">+ setIcon()</tspan><tspan x="908.5" dy="14.7">- updateGUI()</tspan><tspan x="908.5" dy="14.7">- initSlots()</tspan><tspan x="908.5" dy="14.7">- updateGUI()</tspan><tspan x="908.5" dy="14.7">- initSlots()</tspan><tspan x="908.5" dy="14.7">- updateGUI()</tspan><tspan x="908.5" dy="14.7">- initSlots()</tspan><tspan x="908.5" dy="14.7">- set()</tspan><tspan x="908.5" dy="14.7">- set()</tspan><tspan x="908.5" dy="14.7">- set()</tspan></text>
</g>
<g id="node-combobox">
<rect class="cb" x="735" y="2549.6" width="138.4" height="472.5"/>
<path class="db" d="M735,2574.8 H873.4 M735,2658.8 H873.4"/>
<text class="t c" x="804.2" y="2565.8">ComboBox</text>
<text class="t" x="746" y="2591.5">+ PropertyNode<tspan x="746" dy="14.7">+ storeContent</tspan><tspan x="746" dy="14.7">+ AutoSynch</tspan><tspan x="746" dy="14.7">- m_content</tspan><tspan x="746" dy="14.7">- m_offset</tspan></text>
<text class="t" x="746" y="2675.5">+ ComboBox()<tspan x="746" dy="14.7">+ getStoreContent()</tspan><tspan x="746" dy="14.7">+ updateGUI()</tspan><tspan x="746" dy="14.7">+ ComboBox()</tspan><tspan x="746" dy="14.7">+ getStoreContent()</tspan><tspan x="746" dy="14.7">+ updateGUI()</tspan><tspan x="746" dy="14.7">+ ComboBox()</tspan><tspan x="746" dy="14.7">+ getStoreContent()</tspan><tspan x="746" dy="14.7">+ updateGUI()</tspan><tspan x="746" dy="14.7">+ slot_select()</tspan><tspan x="746" dy="14.7">+ slot_offset()</tspan><tspan x="746" dy="14.7">+ setStoreContent()</tspan><tspan x="746" dy="14.7">+ slot_select()</tspan><tspan x="746" dy="14.7">+ slot_offset()</tspan><tspan x="746" dy="14.7">+ setStoreContent()</tspan><tspan x="746" dy="14.7">+ slot_select()</tspan><tspan x="746" dy="14.7">+ slot_offset()</tspan><tspan x="746" dy="14.7">+ setStoreContent()</tspan><tspan x="746" dy="14.7"># initSlots()</tspan><tspan x="746" dy="14.7"># initSlots()</tspan><tspan x="746" dy="14.7"># initSlots()</tspan><tspan x="746" dy="14.7">- set()</tspan><tspan x="746" dy="14.7">- set()</tspan><tspan x="746" dy="14.7">- set()</tspan></text>
</g>
<g id="node-itemlabel">
<rect class="cb" x="1175" y="2549.6" width="154" height="472.5"/>
<path class="db" d="M1175,2574.8 H1329 M1175,2658.8 H1329"/>
<text class="t c" x="1252" y="2565.8">ItemLabel</text>
<text class="t" x="1186" y="2591.5">+ PropertyNode<tspan x="1186" dy="14.7">+ LabelIndex</tspan><tspan x="1186" dy="14.7">+ Prec</tspan><tspan x="1186" dy="14.7">- m_index</tspan><tspan x="1186" dy="14.7">- m_precision</tspan></text>
<text class="t" x="1186" y="2675.5">+ ItemLabel()<tspan x="1186" dy="14.7">+ getLabelIndex()</tspan><tspan x="1186" dy="14.7">+ initSlots()</tspan><tspan x="1186" dy="14.7">+ updateGUI()</tspan><tspan x="1186" dy="14.7">+ getPrecision()</tspan><tspan x="1186" dy="14.7">+ ItemLabel()</tspan><tspan x="1186" dy="14.7">+ getLabelIndex()</tspan><tspan x="1186" dy="14.7">+ initSlots()</tspan><tspan x="1186" dy="14.7">+ updateGUI()</tspan><tspan x="1186" dy="14.7">+ getPrecision()</tspan><tspan x="1186" dy="14.7">+ ItemLabel()</tspan><tspan x="1186" dy="14.7">+ getLabelIndex()</tspan><tspan x="1186" dy="14.7">+ initSlots()</tspan><tspan x="1186" dy="14.7">+ updateGUI()</tspan><tspan x="1186" dy="14.7">+ getPrecision()</tspan><tspan x="1186" dy="14.7">+ slot_setPrecision()</tspan><tspan x="1186" dy="14.7">+ slot_setLabels()</tspan><tspan x="1186" dy="14.7">+ slot_setLabelIndex()</tspan><tspan x="1186" dy="14.7">+ slot_setPrecision()</tspan><tspan x="1186" dy="14.7">+ slot_setLabels()</tspan><tspan x="1186" dy="14.7">+ slot_setLabelIndex()</tspan><tspan x="1186" dy="14.7">+ slot_setPrecision()</tspan><tspan x="1186" dy="14.7">+ slot_setLabels()</tspan><tspan x="1186" dy="14.7">+ slot_setLabelIndex()</tspan></text>
</g>
<g id="node-map-i64">
<rect class="cg" x="306.3" y="2739.9" width="144" height="90.1"/>
<path class="dg" d="M306.3,2779.8 H450.3 M306.3,2805 H450.3"/>
<text class="t c" x="378.3" y="2756.1">std::map&lt; Nice::I64,<tspan x="378.3" dy="14.7">Nice::BridgeItem *&gt;</tspan></text>
<text class="t" x="317.3" y="2796.5">+ keys</text>
</g>
<g id="node-progressbar">
<rect class="cb" x="475.4" y="2666.6" width="120.4" height="237.3"/>
<path class="db" d="M475.4,2691.8 H595.8 M475.4,2717 H595.8"/>
<text class="t c" x="535.6" y="2682.8">ProgressBar</text>
<text class="t" x="486.4" y="2708.5">+ PropertyNode</text>
<text class="t" x="486.4" y="2733.7">+ ProgressBar()<tspan x="486.4" dy="14.7">+ ProgressBar()</tspan><tspan x="486.4" dy="14.7">+ ProgressBar()</tspan><tspan x="486.4" dy="14.7">+ slot_setMask()</tspan><tspan x="486.4" dy="14.7">+ slot_setMask()</tspan><tspan x="486.4" dy="14.7">+ slot_setMask()</tspan><tspan x="486.4" dy="14.7">- updateGUI()</tspan><tspan x="486.4" dy="14.7">- initSlots()</tspan><tspan x="486.4" dy="14.7">- updateGUI()</tspan><tspan x="486.4" dy="14.7">- initSlots()</tspan><tspan x="486.4" dy="14.7">- updateGUI()</tspan><tspan x="486.4" dy="14.7">- initSlots()</tspan></text>
</g>
<g id="node-basdaservicestate">
<rect class="cb" x="1354" y="2666.6" width="158.7" height="237.3"/>
<path class="db" d="M1354,2691.8 H1512.7 M1354,2775.8 H1512.7"/>
<text class="t c" x="1433.35" y="2682.8">BasdaServiceState</text>
<text class="t" x="1365" y="2708.5">+ m_statusLabel<tspan x="1365" dy="14.7">+ PropertyNode</tspan><tspan x="1365" dy="14.7">+ AutoSynch</tspan><tspan x="1365" dy="14.7">- m_pingpong</tspan><tspan x="1365" dy="14.7">- m_movie</tspan></text>
<text class="t" x="1365" y="2792.5">+ BasdaServiceState()<tspan x="1365" dy="14.7">+ updateGUI()</tspan><tspan x="1365" dy="14.7">+ BasdaServiceState()</tspan><tspan x="1365" dy="14.7">+ updateGUI()</tspan><tspan x="1365" dy="14.7">+ set()</tspan><tspan x="1365" dy="14.7">+ selected()</tspan><tspan x="1365" dy="14.7">+ set()</tspan><tspan x="1365" dy="14.7">+ selected()</tspan></text>
</g>
<g id="node-propertybridgeqt">
<rect class="cb" x="165.4" y="3195" width="159.7" height="296.1"/>
<path class="db" d="M165.4,3220.2 H325.1 M165.4,3274.8 H325.1"/>
<text class="t c" x="245.25" y="3211.2">Nice::PropertyBridgeQt</text>
<text class="t" x="176.4" y="3236.9">+ s_record<tspan x="176.4" dy="14.7">- m_callerID</tspan><tspan x="176.4" dy="14.7">- m_mutex</tspan></text>
<text class="t" x="176.4" y="3291.5">+ ~PropertyBridgeQt()<tspan x="176.4" dy="14.7">+ ~PropertyBridgeQt()</tspan><tspan x="176.4" dy="14.7">+ ~PropertyBridgeQt()</tspan><tspan x="176.4" dy="14.7">- recordCMD()</tspan><tspan x="176.4" dy="14.7">- setProperty()</tspan><tspan x="176.4" dy="14.7">- toString()</tspan><tspan x="176.4" dy="14.7">- identity()</tspan><tspan x="176.4" dy="14.7">- type()</tspan><tspan x="176.4" dy="14.7">- set()</tspan><tspan x="176.4" dy="14.7">- resetGUI()</tspan><tspan x="176.4" dy="14.7">- getBridgeItems()</tspan><tspan x="176.4" dy="14.7">- disconnect()</tspan><tspan x="176.4" dy="14.7">- disconnect()</tspan><tspan x="176.4" dy="14.7">and 26 more...</tspan></text>
</g>
<g id="node-ui">
<rect class="cu" x="704.2" y="3218" width="236.8" height="252"/>
<path class="db" d="M704.2,3257.9 H941 M704.2,3430.1 H941"/>
<text class="t c" x="822.6" y="3234.2">Ui_BasdaMoccaXYServiceWidget<tspan x="822.6" dy="14.7">ClassicUI</tspan></text>
<text class="t" x="715.2" y="3274.6">+ gridLayout<tspan x="715.2" dy="14.7">+ line_2</tspan><tspan x="715.2" dy="14.7">+ m_signAbsoluteYPushButton</tspan><tspan x="715.2" dy="14.7">+ line</tspan><tspan x="715.2" dy="14.7">+ line_3</tspan><tspan x="715.2" dy="14.7">+ m_moveRelativeXToolButton</tspan><tspan x="715.2" dy="14.7">+ m_moveRelativeXDoubleSpinBox</tspan><tspan x="715.2" dy="14.7">+ m_signAbsoluteXPushButton</tspan><tspan x="715.2" dy="14.7">+ m_moveAbsoluteXToolButton</tspan><tspan x="715.2" dy="14.7">+ m_signRelativeYPushButton</tspan><tspan x="715.2" dy="14.7">and 15 more...</tspan></text>
<text class="t" x="715.2" y="3446.8">+ setupUi()<tspan x="715.2" dy="14.7">+ retranslateUi()</tspan></text>
</g>
<g id="node-queue">
<rect class="cg" x="349.7" y="3297.5" width="182.8" height="90.1"/>
<path class="dg" d="M349.7,3337.4 H532.5 M349.7,3362.6 H532.5"/>
<text class="t c" x="441.1" y="3313.7">std::queue&lt; Nice::Property<tspan x="441.1" dy="14.7">Ptr &gt;</tspan></text>
<text class="t" x="360.7" y="3354.1">+ elements</text>
</g>
<g id="node-qobject">
<rect class="cg" x="568.6" y="3305.4" width="70.1" height="75.2"/>
<path class="dg" d="M568.6,3330.6 H638.7 M568.6,3355.6 H638.7"/>
<text class="t c" x="603.65" y="3321.6">QObject</text>
</g>
<g id="node-threadhopper">
<rect class="cb" x="260.2" y="3555.7" width="145.6" height="354.9"/>
<path class="db" d="M260.2,3580.9 H405.8 M260.2,3679.6 H405.8"/>
<text class="t c" x="333" y="3571.9">Nice::ThreadHopper</text>
<text class="t" x="271.2" y="3597.6">+ m_active<tspan x="271.2" dy="14.7">+ m_buffered</tspan><tspan x="271.2" dy="14.7">+ DELAY_MILLIS</tspan><tspan x="271.2" dy="14.7">- m_mutex</tspan><tspan x="271.2" dy="14.7">- m_timer</tspan><tspan x="271.2" dy="14.7">- m_state</tspan></text>
<text class="t" x="271.2" y="3696.3">+ start()<tspan x="271.2" dy="14.7">+ start()</tspan><tspan x="271.2" dy="14.7">+ start()</tspan><tspan x="271.2" dy="14.7">- ThreadHopper()</tspan><tspan x="271.2" dy="14.7">- ~ThreadHopper()</tspan><tspan x="271.2" dy="14.7">- setBuffered()</tspan><tspan x="271.2" dy="14.7">- ThreadHopper()</tspan><tspan x="271.2" dy="14.7">- ~ThreadHopper()</tspan><tspan x="271.2" dy="14.7">- setBuffered()</tspan><tspan x="271.2" dy="14.7">- ThreadHopper()</tspan><tspan x="271.2" dy="14.7">- ~ThreadHopper()</tspan><tspan x="271.2" dy="14.7">- setBuffered()</tspan><tspan x="271.2" dy="14.7">- slotUpdate()</tspan><tspan x="271.2" dy="14.7">- slotUpdate()</tspan><tspan x="271.2" dy="14.7">- slotUpdate()</tspan></text>
</g>
<g id="node-bridgeitemslots">
<rect class="cb" x="528.8" y="3571" width="182.2" height="325.3"/>
<path class="db" d="M528.8,3596.2 H711 M528.8,3621.2 H711"/>
<text class="t c" x="619.9" y="3587.2">Nice::BridgeItemSlots</text>
<text class="t" x="539.8" y="3637.9">+ slot_setLabel()<tspan x="539.8" dy="14.7">+ slot_setLabels()</tspan><tspan x="539.8" dy="14.7">+ slot_setUserConfirmation</tspan><tspan x="539.8" dy="14.7">Status()</tspan><tspan x="539.8" dy="14.7">+ slot_setSynchStatus()</tspan><tspan x="539.8" dy="14.7">+ slot_setLabel()</tspan><tspan x="539.8" dy="14.7">+ slot_setLabels()</tspan><tspan x="539.8" dy="14.7">+ slot_setUserConfirmation</tspan><tspan x="539.8" dy="14.7">Status()</tspan><tspan x="539.8" dy="14.7">+ slot_setSynchStatus()</tspan><tspan x="539.8" dy="14.7">+ slot_setLabel()</tspan><tspan x="539.8" dy="14.7">+ slot_setLabels()</tspan><tspan x="539.8" dy="14.7">+ slot_setUserConfirmation</tspan><tspan x="539.8" dy="14.7">Status()</tspan><tspan x="539.8" dy="14.7">+ slot_setSynchStatus()</tspan><tspan x="539.8" dy="14.7"># BridgeItemSlots()</tspan><tspan x="539.8" dy="14.7"># BridgeItemSlots()</tspan><tspan x="539.8" dy="14.7"># BridgeItemSlots()</tspan></text>
</g>
</svg>
